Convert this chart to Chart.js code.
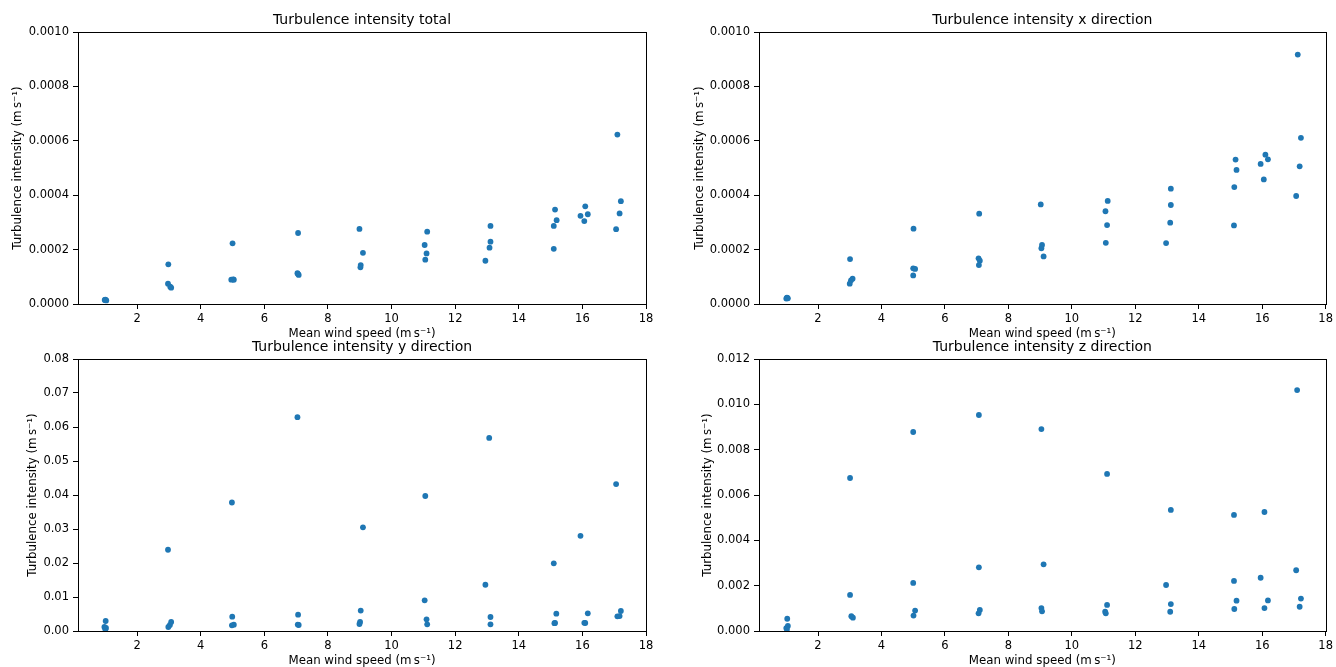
<!DOCTYPE html>
<html>
<head>
<meta charset="utf-8">
<title>Turbulence intensity</title>
<script src="https://cdn.jsdelivr.net/npm/chart.js@4.4.1/dist/chart.umd.min.js"></script>
<style>
    html, body { margin: 0; padding: 0; background: #fff; width: 1336px; height: 667px; overflow: hidden; }
    canvas { position: absolute; }
</style>
</head>
<body>
<canvas id="chart-total" width="668" height="341" style="left:0px;top:0px"></canvas>
<canvas id="chart-x" width="655" height="341" style="left:681px;top:0px"></canvas>
<canvas id="chart-y" width="668" height="341" style="left:0px;top:327px"></canvas>
<canvas id="chart-z" width="655" height="341" style="left:681px;top:327px"></canvas>
<script>
// wind speed / intensity pairs, 4 samples per speed step
var windTotal = [0.98, 1.01, 1.03, 1.00, 2.98, 2.97, 3.04, 3.07, 5.00, 4.96, 5.04, 5.02,
    7.06, 7.04, 7.08, 7.06, 8.99, 9.10, 9.03, 9.02, 11.12, 11.04, 11.10, 11.06,
    13.11, 13.11, 13.08, 12.95, 15.14, 15.19, 15.10, 15.10, 16.09, 15.94, 16.17, 16.06,
    17.10, 17.21, 17.17, 17.06];
var intensityTotal = [0.000015, 0.000014, 0.000013, 0.000016, 0.000146, 0.0000746, 0.0000636, 0.00006,
    0.000223, 0.0000893, 0.0000893, 0.00009, 0.000261, 0.000113, 0.000107, 0.00011,
    0.000276, 0.000188, 0.000143, 0.000135, 0.000266, 0.000217, 0.000186, 0.000163,
    0.000287, 0.000229, 0.000207, 0.000159, 0.000347, 0.000308, 0.000287, 0.000203,
    0.000359, 0.000324, 0.00033, 0.000305, 0.000623, 0.000378, 0.000333, 0.000275];

var windX = [1.03, 1.00, 1.05, 1.02, 3.01, 3.09, 3.04, 3.00, 5.01, 5.00, 5.06, 5.00,
    7.08, 7.06, 7.10, 7.07, 9.02, 9.06, 9.04, 9.11, 11.13, 11.06, 11.11, 11.07,
    13.12, 13.12, 13.10, 12.97, 15.16, 15.19, 15.12, 15.11, 16.10, 15.95, 16.18, 16.05,
    17.12, 17.22, 17.18, 17.07];
var intensityX = [0.000022, 0.00002, 0.000021, 0.000023, 0.000165, 0.000093, 0.000087, 0.0000748,
    0.000277, 0.000131, 0.000129, 0.000105, 0.000332, 0.000168, 0.000159, 0.000143,
    0.000366, 0.000217, 0.000205, 0.000175, 0.000379, 0.000341, 0.00029, 0.000225,
    0.000424, 0.000364, 0.000299, 0.000224, 0.000531, 0.000493, 0.00043, 0.000289,
    0.000549, 0.000515, 0.000532, 0.000458, 0.000917, 0.000611, 0.000506, 0.000397];

var windY = [1.01, 0.97, 1.02, 1.00, 2.97, 3.07, 3.03, 2.98, 4.98, 4.99, 5.04, 4.98,
    7.04, 7.06, 7.08, 7.05, 9.10, 9.03, 9.01, 8.99, 11.06, 11.04, 11.10, 11.12,
    13.07, 12.95, 13.11, 13.11, 15.10, 15.18, 15.14, 15.12, 15.94, 16.17, 16.09, 16.06,
    17.06, 17.21, 17.10, 17.17];
var intensityY = [0.00294, 0.00118, 0.00088, 0.0005, 0.0239, 0.00265, 0.00176, 0.00118,
    0.0378, 0.0042, 0.00186, 0.00167, 0.0629, 0.0048, 0.00176, 0.0019,
    0.0305, 0.006, 0.00265, 0.00206, 0.0397, 0.00903, 0.00343, 0.00196,
    0.0568, 0.0136, 0.00412, 0.00196, 0.0199, 0.0051, 0.00235, 0.0023,
    0.028, 0.0052, 0.00235, 0.0024, 0.0432, 0.00588, 0.00432, 0.0044];

var windZ = [1.03, 1.05, 1.00, 1.02, 3.01, 3.01, 3.05, 3.10, 5.00, 5.00, 5.06, 5.01,
    7.07, 7.07, 7.10, 7.06, 9.04, 9.11, 9.04, 9.06, 11.11, 11.11, 11.05, 11.07,
    13.12, 12.97, 13.12, 13.10, 15.11, 15.11, 15.19, 15.12, 16.07, 15.95, 16.18, 16.07,
    17.10, 17.07, 17.22, 17.18];
var intensityZ = [0.00054, 0.00022, 0.00013, 0.00007, 0.00675, 0.00159, 0.00065, 0.00059,
    0.00878, 0.00212, 0.0009, 0.00068, 0.00953, 0.00281, 0.00093, 0.00078,
    0.00891, 0.00294, 0.00101, 0.00087, 0.00693, 0.00115, 0.00085, 0.00078,
    0.00534, 0.00203, 0.00119, 0.00085, 0.00512, 0.00221, 0.00134, 0.00097,
    0.00525, 0.00235, 0.00135, 0.00101, 0.01063, 0.00268, 0.00143, 0.00107];

// ticks
var xTicks = [2, 4, 6, 8, 10, 12, 14, 16, 18];
var xTickLabels = ['2', '4', '6', '8', '10', '12', '14', '16', '18'];
var yTicksTotal = [0, 0.0002, 0.0004, 0.0006, 0.0008, 0.0010];
var yTickLabelsTotal = ['0.0000', '0.0002', '0.0004', '0.0006', '0.0008', '0.0010'];
var yTicksY = [0, 0.01, 0.02, 0.03, 0.04, 0.05, 0.06, 0.07, 0.08];
var yTickLabelsY = ['0.00', '0.01', '0.02', '0.03', '0.04', '0.05', '0.06', '0.07', '0.08'];
var yTicksZ = [0, 0.002, 0.004, 0.006, 0.008, 0.010, 0.012];
var yTickLabelsZ = ['0.000', '0.002', '0.004', '0.006', '0.008', '0.010', '0.012'];

Chart.defaults.font.family = '"DejaVu Sans", sans-serif';
Chart.defaults.color = '#000';

// matplotlib-like box around the axes
var framePlugin = {
    id: 'frame',
    afterDraw: function (chart) {
        var a = chart.chartArea, ctx = chart.ctx;
        ctx.save();
        ctx.strokeStyle = '#000';
        ctx.lineWidth = 1;
        ctx.strokeRect(Math.round(a.left) + 0.5, Math.round(a.top) + 0.5,
            Math.round(a.right - a.left), Math.round(a.bottom - a.top));
        ctx.restore();
    }
};

function makeChart(id, title, xs, ys, yTicks, yTickLabels, titlePad, padRight) {
    var points = xs.map(function (x, i) { return {x: x, y: ys[i]}; });
    return new Chart(document.getElementById(id), {
        type: 'scatter',
        data: {
            datasets: [{
                data: points,
                backgroundColor: '#1f77b4',
                borderColor: '#1f77b4',
                borderWidth: 0,
                pointRadius: 2.9
            }]
        },
        options: {
            responsive: false,
            animation: false,
            events: [],
            layout: { padding: { left: 0, top: 0, right: padRight, bottom: 0 } },
            plugins: {
                legend: { display: false },
                tooltip: { enabled: false },
                title: {
                    display: true,
                    text: title,
                    fullSize: false,
                    font: { size: 14, weight: 'normal' },
                    padding: { top: 11.6, bottom: 3.6 }
                }
            },
            scales: {
                x: {
                    type: 'linear',
                    min: 0.14,
                    max: 18.0,
                    afterFit: function (s) { s.height = 37; },
                    afterBuildTicks: function (s) { s.ticks = xTicks.map(function (v) { return {value: v}; }); },
                    border: { display: false },
                    grid: { drawOnChartArea: false, color: '#000', tickLength: 5 },
                    ticks: {
                        autoSkip: false, maxRotation: 0, padding: 3,
                        font: { size: 11.5 },
                        callback: function (v, i) { return xTickLabels[i]; }
                    },
                    title: {
                        display: true,
                        text: 'Mean wind speed (m\u2009s\u207B\u00B9)',
                        font: { size: 11.8 },
                        padding: { top: 0, bottom: 0 }
                    }
                },
                y: {
                    type: 'linear',
                    min: yTicks[0],
                    max: yTicks[yTicks.length - 1],
                    afterFit: function (s) { s.width = 78; },
                    afterBuildTicks: function (s) { s.ticks = yTicks.map(function (v) { return {value: v}; }); },
                    border: { display: false },
                    grid: { drawOnChartArea: false, color: '#000', tickLength: 5 },
                    ticks: {
                        autoSkip: false, padding: 4,
                        font: { size: 11.5 },
                        callback: function (v, i) { return yTickLabels[i]; }
                    },
                    title: {
                        display: true,
                        text: 'Turbulence intensity (m\u2009s\u207B\u00B9)',
                        font: { size: 11.8 },
                        padding: { top: titlePad, bottom: 0 }
                    }
                }
            }
        },
        plugins: [framePlugin]
    });
}

var chartTotal = makeChart('chart-total', 'Turbulence intensity total', windTotal, intensityTotal, yTicksTotal, yTickLabelsTotal, 11, 22);
var chartX = makeChart('chart-x', 'Turbulence intensity x direction', windX, intensityX, yTicksTotal, yTickLabelsTotal, 12, 8);
var chartY = makeChart('chart-y', 'Turbulence intensity y direction', windY, intensityY, yTicksY, yTickLabelsY, 26, 22);
var chartZ = makeChart('chart-z', 'Turbulence intensity z direction', windZ, intensityZ, yTicksZ, yTickLabelsZ, 20, 8);
</script>
</body>
</html>
